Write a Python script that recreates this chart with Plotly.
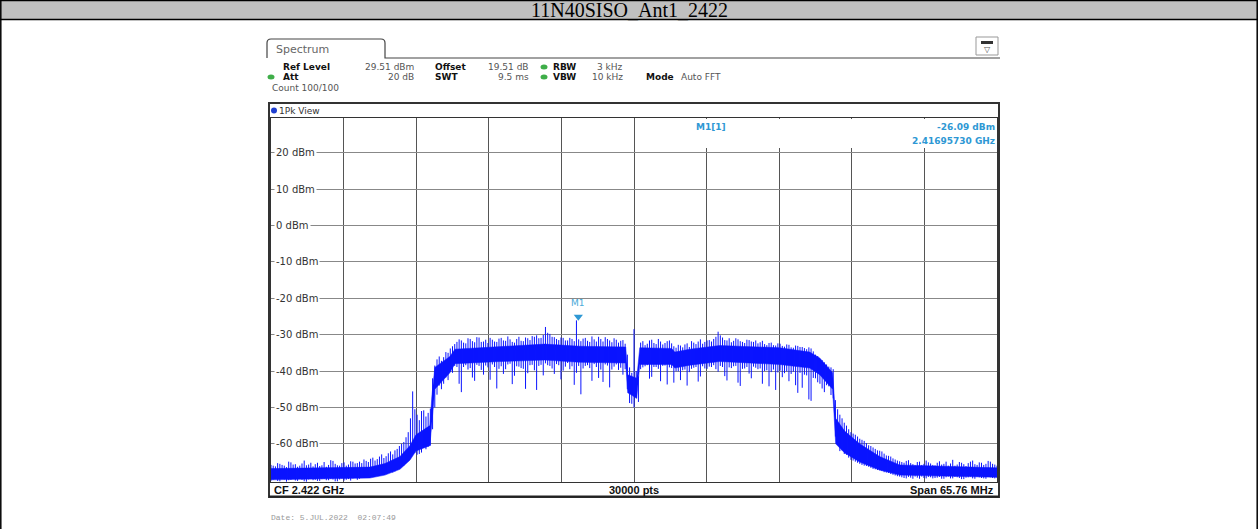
import plotly.graph_objects as go
import numpy as np

# ---------------- data ----------------
TITLE = "11N40SISO_Ant1_2422"
CF_GHZ = 2.422
SPAN_MHZ = 65.76
REF_LEVEL_DBM = 29.51
RANGE_DB = 100.0

# trace, per display bin: peak (upper) and minimum (lower) level in dBm
# bins on the even display columns
peak_dbm = [
    -65.8, -66.2, -65.5, -66.0, -64.9, -65.7, -66.3, -65.4, -65.9, -65.2,
    -65.6, -66.1, -65.0, -65.8, -64.7, -65.9, -65.3, -66.0, -64.8, -65.4,
    -64.9, -64.3, -65.0, -63.8, -64.2, -62.9, -63.4, -62.1, -61.8, -60.6,
    -59.5, -56.8, -45.6, -52.0, -51.0, -52.5, -50.3, -38.5, -36.0, -36.2,
    -35.0, -33.2, -32.0, -31.6, -32.4, -31.2, -32.1, -30.8, -31.9, -32.3,
    -31.4, -32.0, -30.9, -31.7, -31.3, -32.2, -30.6, -31.8, -31.0, -30.4,
    -30.2, -30.9, -27.9, -29.8, -30.7, -31.5, -30.9, -31.6, -31.2, -26.09,
    -31.8, -30.9, -32.0, -31.3, -30.6, -31.9, -31.2, -32.1, -31.4, -31.7,
    -32.5, -39.0, -28.5, -41.5, -31.8, -32.5, -31.4, -32.6, -31.9, -32.3,
    -31.6, -33.2, -32.8, -33.5, -32.4, -31.8, -32.6, -31.3, -32.0, -31.5,
    -31.2, -29.2, -30.8, -31.6, -32.1, -31.0, -31.8, -32.3, -31.5, -32.0,
    -32.4, -31.7, -32.9, -32.2, -33.0, -32.5, -33.3, -32.8, -33.6, -33.1,
    -33.4, -34.0, -33.8, -35.5, -36.8, -37.6, -38.8, -39.5, -50.5, -53.0,
    -55.0, -56.8, -57.5, -58.6, -59.2, -60.4, -61.0, -61.8, -62.1, -63.2,
    -63.5, -64.3, -64.8, -65.2, -64.5, -65.6, -65.0, -65.8, -64.6, -65.4,
    -65.9, -64.8, -65.5, -66.0, -64.4, -65.7, -65.2, -66.1, -64.9, -65.6,
    -65.1, -65.8, -64.7, -65.5, -66.0,
]
min_dbm = [
    -70.1, -69.6, -70.3, -69.8, -70.0, -69.5, -70.2, -69.9, -70.4, -69.7,
    -69.9, -70.2, -69.6, -70.0, -69.8, -70.3, -69.5, -69.9, -70.1, -69.4,
    -69.6, -69.2, -68.7, -68.9, -68.3, -68.6, -67.9, -67.4, -67.6, -66.5,
    -66.0, -64.2, -62.0, -63.0, -62.4, -61.5, -60.5, -50.0, -44.0, -43.5,
    -42.5, -40.5, -38.9, -45.8, -38.4, -39.2, -42.7, -38.6, -41.0, -39.0,
    -38.2, -44.8, -38.7, -39.5, -38.0, -41.3, -38.8, -39.4, -40.6, -38.3,
    -45.2, -38.3, -37.9, -38.6, -40.8, -38.4, -39.9, -37.8, -38.7, -40.5,
    -46.4, -38.6, -39.2, -38.1, -41.9, -43.0, -38.5, -39.6, -38.2, -39.1,
    -39.5, -48.8, -50.0, -48.5, -39.0, -38.4, -41.6, -38.9, -42.8, -38.5,
    -39.0, -43.2, -40.1, -39.8, -44.0, -39.4, -38.9, -41.5, -39.3, -38.8,
    -38.4, -40.2, -38.9, -42.6, -39.2, -38.6, -44.1, -39.3, -40.7, -38.8,
    -39.5, -43.5, -39.8, -40.3, -45.2, -39.9, -40.6, -42.8, -40.2, -46.0,
    -44.6, -41.2, -48.2, -42.0, -43.5, -45.8, -44.2, -47.5, -60.0, -61.8,
    -63.0, -64.4, -64.9, -65.5, -66.0, -66.3, -66.9, -67.2, -67.5, -67.9,
    -68.3, -68.7, -69.0, -69.4, -69.1, -69.6, -69.3, -69.0, -69.5, -69.2,
    -69.4, -69.1, -69.6, -69.0, -69.5, -69.2, -69.7, -69.3, -69.0, -69.6,
    -69.2, -69.5, -69.1, -69.4, -69.3,
]
# bins on the odd display columns (between the ones above)
peak_mid_dbm = [
    -66.0, -65.3, -65.8, -66.4, -65.1, -65.6, -66.0, -64.6, -65.7, -66.2,
    -65.2, -65.9, -66.3, -64.5, -65.5, -66.0, -65.1, -65.7, -64.9, -65.3,
    -65.3, -64.7, -64.1, -64.6, -63.5, -63.9, -62.6, -62.9, -61.4, -60.0,
    -58.2, -53.0, -50.5, -53.5, -50.8, -51.5, -42.0, -36.8, -37.2, -34.8,
    -33.8, -32.6, -31.3, -32.2, -31.0, -31.8, -30.7, -32.0, -31.4, -30.9,
    -31.9, -31.1, -31.6, -30.5, -32.0, -31.2, -31.7, -30.8, -31.5, -30.6,
    -31.0, -30.1, -29.5, -30.6, -31.2, -30.8, -31.6, -30.9, -31.8, -31.3,
    -31.1, -31.7, -30.5, -31.9, -31.2, -30.7, -31.6, -31.0, -32.2, -31.5,
    -35.5, -40.5, -40.0, -32.2, -32.9, -31.6, -32.3, -31.2, -32.7, -31.8,
    -32.4, -33.6, -33.0, -32.7, -33.4, -32.2, -31.9, -32.5, -31.6, -31.9,
    -30.6, -30.2, -31.5, -31.0, -31.7, -31.3, -32.0, -31.4, -31.9, -31.6,
    -32.1, -32.6, -32.3, -32.9, -32.4, -33.1, -32.7, -33.5, -33.0, -33.4,
    -33.7, -33.5, -34.6, -35.9, -37.0, -38.2, -39.0, -48.0, -52.0, -54.2,
    -56.0, -57.2, -58.0, -58.9, -59.8, -60.6, -61.4, -61.9, -62.7, -63.3,
    -64.0, -64.6, -65.0, -64.7, -65.3, -65.9, -64.9, -65.5, -65.1, -65.8,
    -65.2, -65.7, -64.9, -65.4, -66.0, -65.0, -65.6, -65.3, -64.6, -65.8,
    -65.2, -65.5, -64.9, -65.7,
]
min_mid_dbm = [
    -69.8, -70.2, -69.7, -70.4, -69.9, -70.1, -69.6, -70.3, -69.8, -70.0,
    -70.2, -69.7, -70.0, -69.6, -70.3, -69.8, -70.1, -69.7, -69.5, -69.9,
    -69.4, -69.0, -68.9, -68.5, -68.8, -68.1, -67.8, -67.9, -67.0, -66.2,
    -65.0, -63.5, -62.5, -62.8, -61.0, -60.8, -56.0, -46.5, -45.0, -41.8,
    -40.2, -38.6, -43.5, -38.9, -39.6, -41.8, -38.3, -39.7, -38.5, -42.4,
    -38.9, -39.4, -40.8, -38.2, -43.6, -38.7, -39.2, -44.9, -38.4, -39.8,
    -38.6, -41.2, -38.4, -39.3, -38.1, -42.3, -38.8, -39.5, -43.8, -38.6,
    -39.3, -38.4, -42.7, -38.9, -39.6, -38.2, -44.5, -38.8, -39.7, -41.0,
    -45.0, -49.0, -47.5, -39.5, -38.7, -42.1, -38.9, -39.4, -38.6, -43.7,
    -39.2, -40.1, -42.5, -39.6, -40.3, -39.1, -42.9, -38.7, -39.4, -38.9,
    -39.5, -38.6, -41.4, -39.0, -38.7, -43.2, -39.4, -38.9, -42.0, -39.1,
    -39.3, -40.0, -44.2, -39.6, -40.4, -41.7, -40.1, -40.8, -43.9, -40.5,
    -41.0, -47.8, -41.9, -43.1, -44.8, -43.9, -46.6, -58.0, -62.0, -62.8,
    -63.8, -64.6, -65.2, -65.8, -66.1, -66.6, -67.0, -67.3, -67.8, -68.0,
    -68.5, -68.9, -69.2, -69.5, -69.3, -69.0, -69.6, -69.4, -69.1, -69.5,
    -69.3, -69.6, -69.2, -69.5, -69.1, -69.4, -69.7, -69.2, -69.5, -69.0,
    -69.4, -69.6, -69.2, -69.5,
]

# dense core of the trace (solid band), offsets from CF in MHz
core_offset_mhz = [-32.88, -23.92, -22.56, -21.20, -20.30, -19.75, -18.49, -18.31,
                   -18.04, -16.68, -16.22, -12.15, -8.08, -4.91, -0.75, -0.57,
                   0.25, 0.52, 3.42, 3.69, 5.05, 7.76, 13.19, 15.91,
                   16.82, 17.99, 18.27, 19.08, 20.44, 22.25, 24.06, 32.88]
core_top_dbm = [-66.8, -66.4, -65.4, -63.5, -60.5, -57.5, -55.0, -47.0,
                -39.0, -36.0, -34.0, -33.2, -32.6, -33.2, -33.4, -41.0,
                -42.0, -33.6, -33.8, -34.8, -34.0, -33.0, -33.6, -34.8,
                -36.4, -40.5, -53.0, -56.5, -60.0, -63.5, -65.8, -66.6]
core_bot_dbm = [-69.9, -69.4, -68.6, -67.0, -64.5, -62.0, -60.5, -55.0,
                -45.0, -40.5, -38.0, -37.4, -37.0, -37.6, -37.8, -46.0,
                -47.5, -38.2, -38.2, -39.2, -38.4, -37.4, -38.2, -39.2,
                -41.0, -45.0, -60.0, -62.5, -65.0, -67.2, -68.6, -69.2]

marker_freq_ghz = 2.41695730
marker_dbm = -26.09
ytick_vals = [20, 10, 0, -10, -20, -30, -40, -50, -60]
ytick_text = ["20 dBm", "10 dBm", "0 dBm", "-10 dBm", "-20 dBm",
              "-30 dBm", "-40 dBm", "-50 dBm", "-60 dBm"]

# ---------------- derived ----------------
f_start = CF_GHZ - SPAN_MHZ / 2000.0
f_stop = CF_GHZ + SPAN_MHZ / 2000.0
hi_all, lo_all = [], []
for k in range(len(peak_dbm)):
    hi_all.append(peak_dbm[k])
    lo_all.append(min_dbm[k])
    if k < len(peak_mid_dbm):
        hi_all.append(peak_mid_dbm[k])
        lo_all.append(min_mid_dbm[k])
freqs = np.linspace(f_start, f_stop, len(hi_all))
# min/max needle per display bin, as drawn by the analyzer
nx, ny = [], []
for f, hi, lo in zip(freqs, hi_all, lo_all):
    nx += [f, f, None]
    ny += [lo, hi, None]
core_f = [CF_GHZ + m / 1000.0 for m in core_offset_mhz]

y_min = REF_LEVEL_DBM - RANGE_DB
grid_x = [f_start + k * (f_stop - f_start) / 10 for k in range(1, 10)]

# ---------------- layout helpers (pixel -> paper) ----------------
W, H = 1258, 529
L, R, T, B = 271, 997, 118, 482


def X(px):
    return (px - L) / (R - L)


def Y(py):
    return (B - py) / (B - T)


shapes = []
annotations = []


def line(x0, y0, x1, y1, color="#333", width=1):
    shapes.append(dict(type="line", xref="paper", yref="paper",
                       x0=X(x0), y0=Y(y0), x1=X(x1), y1=Y(y1),
                       line=dict(color=color, width=width), layer="above"))


def rect(x0, y0, x1, y1, fill=None, color=None, width=1, layer="above"):
    shapes.append(dict(type="rect", xref="paper", yref="paper",
                       x0=X(x0), y0=Y(y0), x1=X(x1), y1=Y(y1),
                       fillcolor=fill if fill else "rgba(0,0,0,0)",
                       line=dict(color=color if color else "rgba(0,0,0,0)", width=width),
                       layer=layer))


def dot(cx, cy, w, h, color):
    shapes.append(dict(type="circle", xref="paper", yref="paper",
                       x0=X(cx - w / 2), y0=Y(cy - h / 2), x1=X(cx + w / 2), y1=Y(cy + h / 2),
                       fillcolor=color, line=dict(width=0), layer="above"))


def text(s, px, py, size=9, color="#222", family="DejaVu Sans", xanchor="left", bold=False, bg=None):
    annotations.append(dict(text=("<b>%s</b>" % s) if bold else s, xref="paper", yref="paper",
                            x=X(px), y=Y(py), xanchor=xanchor, yanchor="middle",
                            showarrow=False, font=dict(size=size, color=color, family=family),
                            bgcolor=bg, borderpad=0))


# outer document table
rect(0, 0, 1258, 19, fill="#c0c0c0")
line(0, 0.5, 1258, 0.5, "#000", 1.5)
line(0, 19.5, 1258, 19.5, "#000", 1.5)
line(0.8, 0, 0.8, 529, "#000", 1.5)
line(1257.2, 0, 1257.2, 529, "#000", 1.5)
text(TITLE, 629, 10, size=20, color="#000", family="Liberation Serif", xanchor="center")

# Spectrum tab
shapes.append(dict(type="path", xref="paper", yref="paper",
                   path="M %f %f L %f %f Q %f %f %f %f L %f %f Q %f %f %f %f L %f %f L %f %f" % (
                       X(267), Y(58), X(267), Y(43), X(267), Y(39), X(271), Y(39),
                       X(381), Y(39), X(385), Y(39), X(385), Y(43), X(385), Y(58), X(1000), Y(58)),
                   line=dict(color="#444", width=1.2), layer="above"))
text("Spectrum", 275, 49, size=11, color="#666")
# small dropdown icon on the right
shapes.append(dict(type="rect", xref="paper", yref="paper", x0=X(976), y0=Y(37), x1=X(998), y1=Y(55),
                   line=dict(color="#999", width=1), fillcolor="white", layer="above"))
rect(981, 41, 993, 44, fill="#333")
text("▽", 987, 49, size=8, color="#555", xanchor="center")

# settings block (values right-aligned in columns)
text("Ref Level", 282, 67, bold=True, color="#111")
text("29.51 dBm", 415, 67, color="#555", xanchor="right")
text("Offset", 434, 67, bold=True, color="#111")
text("19.51 dB", 530, 67, color="#555", xanchor="right")
dot(544, 67, 7, 5, "#3fae49")
text("RBW", 552, 67, bold=True, color="#111")
text("3 kHz", 624, 67, color="#555", xanchor="right")
dot(271, 77, 7, 5, "#3fae49")
text("Att", 282, 77, bold=True, color="#111")
text("20 dB", 415, 77, color="#555", xanchor="right")
text("SWT", 434, 77, bold=True, color="#111")
text("9.5 ms", 530, 77, color="#555", xanchor="right")
dot(544, 77, 7, 5, "#3fae49")
text("VBW", 552, 77, bold=True, color="#111")
text("10 kHz", 624, 77, color="#555", xanchor="right")
text("Mode", 645, 77, bold=True, color="#111")
text("Auto FFT", 680, 77, color="#555")
text("Count 100/100", 271, 88, color="#555")

# instrument frame
rect(269, 103, 999, 497, color="#333", width=2)
dot(274, 110.5, 6, 6, "#1f3fd0")
text("1Pk View", 278, 110.5, size=9, color="#333")
line(269, 496.5, 999, 496.5, "#222", 2)

# marker info box (covers grid top right)
rect(640, 119, 996, 148, fill="white")
text("M1[1]", 711, 127, size=9, color="#2e98d4", bold=True, xanchor="center")
text("-26.09 dBm", 996, 127, size=9, color="#2e98d4", bold=True, xanchor="right")
text("2.41695730 GHz", 996, 141, size=9, color="#2e98d4", bold=True, xanchor="right")

# y-axis labels inside the plot (white background hides the grid start)
for v, t in zip(ytick_vals, ytick_text):
    annotations.append(dict(text=t, xref="paper", yref="y", x=X(274), y=v,
                            xanchor="left", yanchor="middle", showarrow=False,
                            font=dict(size=10, color="#333", family="DejaVu Sans"),
                            bgcolor="white", borderpad=1))

# bottom bar
text("CF 2.422 GHz", 273, 489.5, size=11, color="#111", family="Liberation Sans", bold=True)
text("30000 pts", 634, 489.5, size=11, color="#111", family="Liberation Sans", bold=True, xanchor="center")
text("Span 65.76 MHz", 995, 489.5, size=11, color="#111", family="Liberation Sans", bold=True, xanchor="right")

# date
text("Date: 5.JUL.2022  02:07:49", 270, 517, size=8, color="#999", family="Liberation Mono")

BLUE = "#0a14ff"
fig = go.Figure()
fig.add_trace(go.Scatter(x=core_f, y=core_top_dbm, mode="lines", line=dict(color=BLUE, width=0.5),
                         hoverinfo="skip", showlegend=False))
fig.add_trace(go.Scatter(x=core_f, y=core_bot_dbm, mode="lines", line=dict(color=BLUE, width=0.5),
                         fill="tonexty", fillcolor=BLUE, hoverinfo="skip", showlegend=False))
fig.add_trace(go.Scatter(x=nx, y=ny, mode="lines", line=dict(color=BLUE, width=1),
                         connectgaps=False, hoverinfo="skip", showlegend=False))
fig.add_trace(go.Scatter(x=[marker_freq_ghz], y=[marker_dbm + 1.0], mode="markers",
                         marker=dict(symbol="triangle-down", size=8, color="#2e98d4"),
                         hoverinfo="skip", showlegend=False))
annotations.append(dict(text="M1", x=marker_freq_ghz, y=marker_dbm + 4.8, xref="x", yref="y",
                        showarrow=False, xanchor="center", yanchor="middle",
                        font=dict(size=9, color="#4aaad8", family="DejaVu Sans")))

fig.update_layout(
    width=W, height=H, autosize=False,
    margin=dict(l=L, r=W - R, t=T, b=H - B, pad=0),
    paper_bgcolor="white", plot_bgcolor="white",
    shapes=shapes, annotations=annotations,
    xaxis=dict(range=[f_start, f_stop], tickvals=grid_x, showticklabels=False, ticks="",
               showgrid=True, gridcolor="#555", gridwidth=1, zeroline=False,
               showline=True, mirror=True, linecolor="#333", linewidth=1),
    yaxis=dict(range=[y_min, REF_LEVEL_DBM], tickvals=ytick_vals, showticklabels=False, ticks="",
               showgrid=True, gridcolor="#888", gridwidth=1, zeroline=False,
               showline=True, mirror=True, linecolor="#333", linewidth=1),
)

fig.write_html("out.html", config={"displayModeBar": False},
               post_script="document.body.style.margin='0';document.body.style.overflow='hidden';")
